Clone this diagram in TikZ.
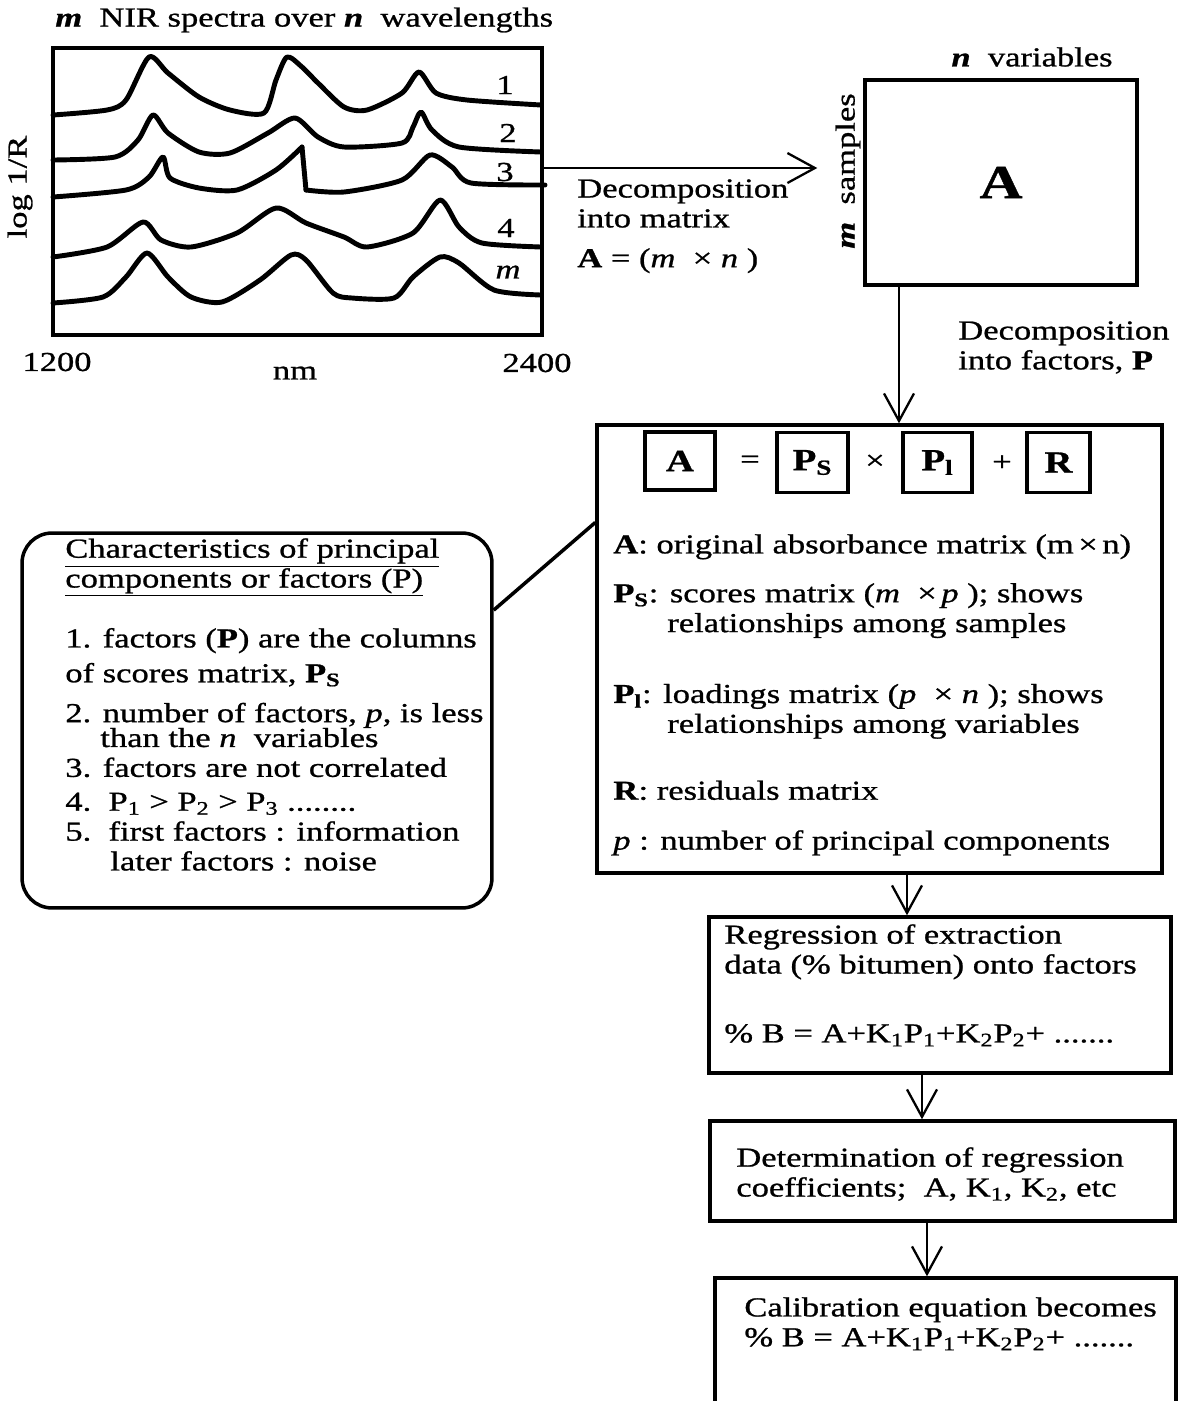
\documentclass[tikz,border=0pt]{standalone}
\usepackage{fontspec}
\setmainfont[FakeStretch=1.26, FakeBold=0.9]{Liberation Serif}
\usepackage{tikz}
\usetikzlibrary{positioning,arrows.meta}

\begin{document}
\begin{tikzpicture}[x=0.02cm, y=-0.02cm,
    font=\fontsize{15.6}{17}\selectfont,
    box/.style={draw, line width=2pt, inner sep=0pt},
    txt/.style={inner sep=0pt, align=left, anchor=north west},
    eqb/.style={box, line width=1.8pt, minimum width=1.4cm, minimum height=1.2cm,
                font=\fontsize{17.5}{17}\selectfont\bfseries},
    trace/.style={line width=2.8pt, line join=round, line cap=round},
    arr/.style={-{Straight Barb[length=0.55cm, width=0.6cm]}, line width=1.3pt}
  ]
  \useasboundingbox (0,0) rectangle (1183,1401);

  % spectra
  \node[box, minimum width=9.78cm, minimum height=5.74cm] (spec) at (297.5,191.5) {};
  \node[anchor=west, inner sep=0pt] (ttl) at (55,20)
    {\textbf{\textit{m}}\ \ NIR spectra over \textbf{\textit{n}}\ \ wavelengths};
  \node[rotate=90, inner sep=0pt] (ylab) at (20,187) {log 1/R};
  \node[inner sep=0pt] (x1) at (57,362) {1200};
  \node[inner sep=0pt] (x2) at (537,363) {2400};
  \node[inner sep=0pt] (xu) at (295,373) {nm};

  \draw[trace] plot[smooth, tension=0.45] coordinates {(53,115) (107,110) (126,100) (149,57)
    (168,73) (199,97) (230,110) (264,113) (276,80) (287,57) (302,67) (318,83) (344,107)
    (367,110) (402,93) (419,72) (436,93) (467,100) (541,105)};
  \draw[trace] plot[smooth, tension=0.45] coordinates {(53,160) (115,157) (138,140) (153,115)
    (168,133) (199,152) (230,153) (268,133) (295,118) (318,137) (344,147) (402,143)
    (413,127) (421,112) (432,130) (459,147) (541,152)};
  \draw[trace] plot[smooth, tension=0.45] coordinates {(53,197) (126,190) (149,177) (163,157)
    (170,178) (199,188) (237,190) (276,170) (302,147)};
  \draw[trace] (302,147) -- (306,190);
  \draw[trace] plot[smooth, tension=0.45] coordinates {(306,190) (344,192) (402,180)
    (430,155) (452,167) (471,183) (545,185)};
  \draw[trace] plot[smooth, tension=0.45] coordinates {(53,257) (107,247) (143,222) (161,240)
    (191,247) (237,233) (276,208) (306,223) (344,237) (367,247) (413,233) (440,200)
    (459,227) (482,243) (541,247)};
  \draw[trace] plot[smooth, tension=0.45] coordinates {(53,303) (103,297) (126,277) (147,253)
    (168,277) (191,297) (222,302) (260,280) (291,255) (306,260) (333,293) (352,298)
    (394,298) (413,277) (440,257) (459,263) (494,290) (541,295)};

  \node[inner sep=0pt] (s1) at (505,85)  {1};
  \node[inner sep=0pt] (s2) at (508,133) {2};
  \node[inner sep=0pt] (s3) at (505,172) {3};
  \node[inner sep=0pt] (s4) at (506,228) {4};
  \node[inner sep=0pt] (sm) at (508,272) {\textit{m}};

  % matrix A
  \node[box, minimum width=5.44cm, minimum height=4.1cm,
        font=\fontsize{27}{27}\selectfont\bfseries] (matA) at (1001,182.5) {A};
  \node[inner sep=0pt] (nvar) at (1032,57) {\textbf{\textit{n}}\ \ variables};
  \node[rotate=90, inner sep=0pt] (msmp) at (848,171) {\textbf{\textit{m}}\ \ samples};
  \node[txt] (dec1) at (577,179)
    {Decomposition\\into matrix\\[0.2cm]\textbf{A} = (\textit{m}\ \ ×\ \textit{n} )};
  \node[txt] (dec2) at (958,321) {Decomposition\\into factors, \textbf{P}};

  \coordinate (k4) at ([yshift=0.47cm]spec.east);
  \coordinate (k5) at ([xshift=-0.92cm]matA.west);
  \draw[arr] (k4) -- (k4 -| k5);

  % decomposition
  \node[box, minimum width=11.3cm, minimum height=8.96cm] (big) at (879.5,649) {};
  \coordinate (k0) at ([xshift=0.39cm]big.north);
  \draw[arr] (k0 |- matA.south) -- (k0);

  \node[eqb, minimum height=1.16cm] (eA) at (680,461) {A};
  \node[inner sep=0pt] (eq) at (750,462) {=};
  \node[eqb, minimum width=1.42cm] (eS) at (812.5,462.5) {P\textsubscript{S}};
  \node[inner sep=0pt] (ex) at (875,462) {×};
  \node[eqb, minimum width=1.38cm] (eL) at (937.5,462.5) {P\textsubscript{l}};
  \node[inner sep=0pt] (ep) at (1002,463) {+};
  \node[eqb, minimum width=1.26cm] (eR) at (1058.5,462.5) {R};

  \node[txt] (defs) at (613,534)
    {\textbf{A}: original absorbance matrix (m\,×\,n)\\[0.38cm]
     \textbf{P\textsubscript{S}}: scores matrix (\textit{m}\ \ ×\,\textit{p} ); shows\\
     \hspace*{1.08cm}relationships among samples\\[0.82cm]
     \textbf{P\textsubscript{l}}: loadings matrix (\textit{p}\ \ ×\ \textit{n} ); shows\\
     \hspace*{1.08cm}relationships among variables\\[0.74cm]
     \textbf{R}: residuals matrix\\[0.4cm]
     \textit{p} : number of principal components};

  % characteristics
  \node[box, rounded corners=0.6cm, minimum width=9.4cm, minimum height=7.5cm] (chars) at (257,720.5) {};
  \node[txt] (chtxt) at (65,538)
    {\underline{Characteristics of principal}\\
     \underline{components or factors (P)}\\[0.6cm]
     1. factors (\textbf{P}) are the columns\\[0.1cm]
     of scores matrix, \textbf{P\textsubscript{S}}\\[0.2cm]
     2. number of factors, \textit{p}, is less\\[-0.1cm]
     \hspace*{0.7cm}than the \textit{n}\ \ variables\\
     3. factors are not correlated\\[0.08cm]
     4.\ \ P\textsubscript{1} > P\textsubscript{2} > P\textsubscript{3} ........\\
     5.\ \ first factors : information\\
     \hspace*{0.9cm}later factors : noise};
  \draw[line width=2pt] (chars.25) -- (big.156);

  % regression steps
  \node[box, minimum width=9.24cm, minimum height=3.12cm] (reg) at (940,995) {};
  \node[txt] (regtxt) at (724,924)
    {Regression of extraction\\
     data (\% bitumen) onto factors\\[0.78cm]
     \% B = A+K\textsubscript{1}P\textsubscript{1}+K\textsubscript{2}P\textsubscript{2}+ .......};
  \node[box, minimum width=9.3cm, minimum height=2cm] (det) at (942.5,1171) {};
  \node[txt] (dettxt) at (736,1147)
    {Determination of regression\\
     coefficients;\ \ A, K\textsubscript{1}, K\textsubscript{2}, etc};
  \node[box, minimum width=9.22cm, minimum height=2.84cm] (cal) at (945.5,1349) {};
  \node[txt] (caltxt) at (744,1297)
    {Calibration equation becomes\\
     \% B = A+K\textsubscript{1}P\textsubscript{1}+K\textsubscript{2}P\textsubscript{2}+ .......};

  \coordinate (k1) at ([xshift=-0.66cm]reg.north);
  \coordinate (k2) at ([xshift=-0.41cm]det.north);
  \coordinate (k3) at ([xshift=-0.37cm]cal.north);
  \draw[arr] (k1 |- big.south) -- (k1);
  \draw[arr] (k2 |- reg.south) -- (k2);
  \draw[arr] (k3 |- det.south) -- (k3);
\end{tikzpicture}
\end{document}
